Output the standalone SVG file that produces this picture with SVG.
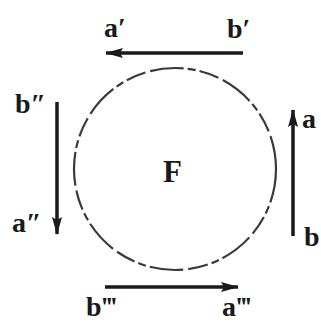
<svg xmlns="http://www.w3.org/2000/svg" width="321" height="323" viewBox="0 0 321 323">
<defs>
<style>
.lbl{font-family:"Liberation Serif",serif;font-weight:bold;font-size:28px;fill:#1a1a1a}
.fl{font-family:"Liberation Serif",serif;font-weight:bold;font-size:31px;fill:#1a1a1a}
.arr{stroke:#1a1a1a;stroke-width:3.5;fill:none}
.circ{stroke:#3a3a3a;stroke-width:2.2;fill:none;stroke-dasharray:34 4 8 4 20 5}
</style>
<marker id="ah" viewBox="0 0 18 10" refX="17" refY="5" markerWidth="18" markerHeight="10" orient="auto" markerUnits="userSpaceOnUse">
<path d="M0,0 L18,5 L0,10 L3,5 Z" fill="#1a1a1a"/>
</marker>
</defs>
<rect width="321" height="323" fill="#fff"/>
<g id="F">
<circle class="circ" cx="175" cy="169" r="101"/>
<text class="fl" x="163" y="182">F</text>
</g>
<g id="connectors">
<line class="arr" x1="243" y1="53" x2="106" y2="53" marker-end="url(#ah)"/>
<line class="arr" x1="57" y1="102" x2="57" y2="234" marker-end="url(#ah)"/>
<line class="arr" x1="293" y1="236" x2="293" y2="110" marker-end="url(#ah)"/>
<line class="arr" x1="105" y1="287" x2="238" y2="287" marker-end="url(#ah)"/>
</g>
<g id="labels">
<text class="lbl" x="104" y="37">a′</text>
<text class="lbl" x="227" y="38">b′</text>
<text class="lbl" x="15" y="113">b″</text>
<text class="lbl" x="12" y="232">a″</text>
<text class="lbl" x="302" y="128">a</text>
<text class="lbl" x="304" y="246">b</text>
<text class="lbl" x="86" y="316">b‴</text>
<text class="lbl" x="222" y="316">a‴</text>
</g>
</svg>
